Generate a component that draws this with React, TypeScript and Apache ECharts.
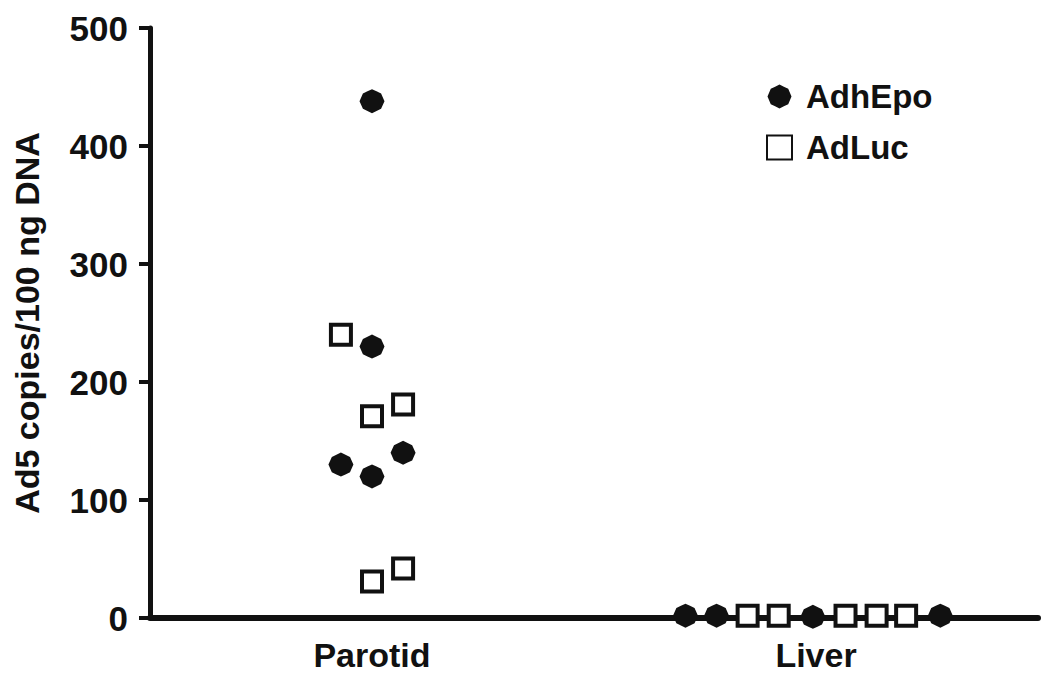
import React, { useEffect, useRef } from "react";
import * as echarts from "echarts";

const categories = ["Parotid", "Liver"];
const yTicks = [0, 100, 200, 300, 400, 500];

// each point: [category index, jitter slot, value]
const adhEpoPoints: [number, number, number][] = [
  [0, 0, 438],
  [0, 0, 230],
  [0, -1, 130],
  [0, 0, 120],
  [0, 1, 140],
  [1, -4.2, 2],
  [1, -3.2, 2],
  [1, -0.1, 1],
  [1, 4.0, 2],
];
const adLucPoints: [number, number, number][] = [
  [0, -1, 240],
  [0, 0, 171],
  [0, 1, 181],
  [0, 0, 31],
  [0, 1, 42],
  [1, -2.2, 2],
  [1, -1.2, 2],
  [1, 0.95, 2],
  [1, 1.95, 2],
  [1, 2.9, 2],
];

const SLOT = 0.07;
const toXY = (p: [number, number, number]) => [p[0] + 0.5 + p[1] * SLOT, p[2]];

const FONT = "'Liberation Sans', Arial, Helvetica, sans-serif";
const INK = "#111111";
const DOT =
  "path://M0,-11 L4,-9 L8,-7 L11,0 L8,7 L4,9 L0,11 L-4,9 L-8,7 L-11,0 L-8,-7 L-4,-9 Z";

export default function App() {
  const ref = useRef<HTMLDivElement>(null);
  useEffect(() => {
    if (!ref.current) return;
    const chart = echarts.init(ref.current, undefined, { renderer: "svg" });
    chart.setOption({
      animation: false,
      backgroundColor: "#ffffff",
      grid: {
        left: 142,
        right: 4,
        top: 20,
        bottom: 56,
        containLabel: false,
        outerBoundsMode: "none",
      },
      legend: {
        orient: "vertical",
        left: 753,
        top: 67,
        itemWidth: 25,
        itemHeight: 24,
        itemGap: 18,
        textStyle: {
          fontFamily: FONT,
          fontWeight: "bold",
          fontSize: 33,
          color: INK,
          padding: [0, 0, 0, 9],
        },
        data: [{ name: "AdhEpo" }, { name: "AdLuc" }],
      },
      xAxis: [
        {
          type: "category",
          data: categories,
          boundaryGap: true,
          axisLine: { lineStyle: { color: INK, width: 6 } },
          axisTick: { alignWithLabel: true, length: 10, lineStyle: { color: INK, width: 3 } },
          axisLabel: { fontFamily: FONT, fontWeight: "bold", fontSize: 34, color: INK, margin: 20 },
          splitLine: { show: false },
        },
        {
          type: "value",
          min: 0,
          max: 2,
          show: false,
          splitLine: { show: false },
        },
      ],
      yAxis: {
        type: "value",
        min: 0,
        max: 500,
        interval: 100,
        name: "Ad5 copies/100 ng DNA",
        nameLocation: "middle",
        nameGap: 106,
        nameRotate: 90,
        nameTextStyle: { fontFamily: FONT, fontWeight: "bold", fontSize: 34, color: INK },
        axisLine: { show: true, lineStyle: { color: INK, width: 5 } },
        axisTick: { show: true, length: 11, lineStyle: { color: INK, width: 4 } },
        axisLabel: {
          fontFamily: FONT,
          fontWeight: "bold",
          fontSize: 35,
          color: INK,
          margin: 22,
          formatter: (v: number) => (yTicks.includes(v) ? String(v) : ""),
        },
        splitLine: { show: false },
      },
      series: [
        {
          name: "AdLuc",
          type: "scatter",
          xAxisIndex: 1,
          symbol: "rect",
          symbolSize: 20,
          itemStyle: { color: "#ffffff", borderColor: INK, borderWidth: 4, opacity: 1 },
          data: adLucPoints.map(toXY),
          z: 3,
        },
        {
          name: "AdhEpo",
          type: "scatter",
          xAxisIndex: 1,
          symbol: DOT,
          symbolSize: [25, 24],
          itemStyle: { color: INK, opacity: 1 },
          data: adhEpoPoints.map(toXY),
          z: 4,
        },
      ],
    });
    return () => chart.dispose();
  }, []);
  return <div ref={ref} style={{ width: 1034, height: 666 }} />;
}
